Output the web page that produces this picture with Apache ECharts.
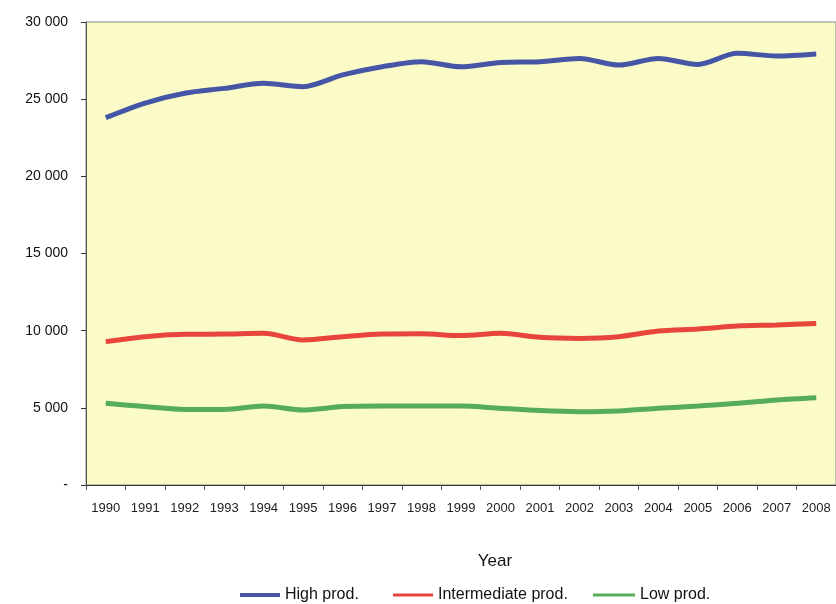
<!DOCTYPE html>
<html>
<head>
<meta charset="utf-8">
<script src="https://cdn.jsdelivr.net/npm/echarts@6/dist/echarts.min.js"></script>
<style>html,body{margin:0;padding:0;background:#fff}#c{width:836px;height:604px}</style>
</head>
<body>
<div id="c"></div>
<script>
const years = ['1990','1991','1992','1993','1994','1995','1996','1997','1998','1999','2000','2001','2002','2003','2004','2005','2006','2007','2008'];
const highProd = [23800,24750,25380,25700,26030,25810,26570,27100,27430,27100,27380,27430,27640,27210,27640,27250,27970,27800,27930];
const intermediateProd = [9290,9610,9760,9780,9830,9400,9610,9780,9800,9680,9830,9570,9500,9610,9980,10110,10300,10370,10470];
const lowProd = [5290,5080,4900,4900,5120,4860,5080,5120,5120,5120,4970,4820,4750,4800,4970,5120,5290,5510,5650];
const yTicks = [0,5000,10000,15000,20000,25000,30000];

const chart = echarts.init(document.getElementById('c'));
const fontFam = '"Liberation Sans", Arial, sans-serif';
function fmt(v){ if(v===0) return '-'; const s=String(v); return s.slice(0,s.length-3)+' '+s.slice(-3); }
function legendAt(name, left, w, h){
  return {
    data:[{name:name}], left:left, top:587, padding:0, icon:'rect', itemWidth:w, itemHeight:h, itemGap:0,
    textStyle:{fontFamily:fontFam, fontSize:16, color:'#111'}
  };
}
chart.setOption({
  animation:false,
  backgroundColor:'#ffffff',
  grid:{left:86, right:-2, top:22, bottom:119, show:true, backgroundColor:'#fbfbc8', borderColor:'#888', borderWidth:1},
  legend:[legendAt('High prod.',240,40,4), legendAt('Intermediate prod.',393,40,3), legendAt('Low prod.',593,42,3)],
  xAxis:{
    type:'category', data:years, boundaryGap:true,
    name:'Year', nameLocation:'middle', nameGap:68,
    nameTextStyle:{fontFamily:fontFam, fontSize:17, color:'#111', padding:[0,0,0,68]},
    axisLine:{lineStyle:{color:'#333', width:1}},
    axisTick:{show:true, length:5, lineStyle:{color:'#555'}},
    axisLabel:{fontFamily:fontFam, fontSize:13, color:'#222', margin:17, interval:0}
  },
  yAxis:{
    type:'value', min:yTicks[0], max:yTicks[yTicks.length-1], interval:5000,
    axisLine:{show:true, lineStyle:{color:'#555'}},
    axisTick:{show:true, length:5, lineStyle:{color:'#333'}},
    splitLine:{show:false},
    axisLabel:{fontFamily:fontFam, fontSize:14, color:'#111', margin:18, formatter:fmt}
  },
  series:[
    {name:'High prod.', type:'line', data:highProd, smooth:0.3, symbol:'none', lineStyle:{color:'#4656a6', width:5}, itemStyle:{color:'#4656a6'}},
    {name:'Intermediate prod.', type:'line', data:intermediateProd, smooth:0.3, symbol:'none', lineStyle:{color:'#e8453c', width:5}, itemStyle:{color:'#e8453c'}},
    {name:'Low prod.', type:'line', data:lowProd, smooth:0.3, symbol:'none', lineStyle:{color:'#55ad5a', width:5}, itemStyle:{color:'#55ad5a'}}
  ]
});
</script>
</body>
</html>
